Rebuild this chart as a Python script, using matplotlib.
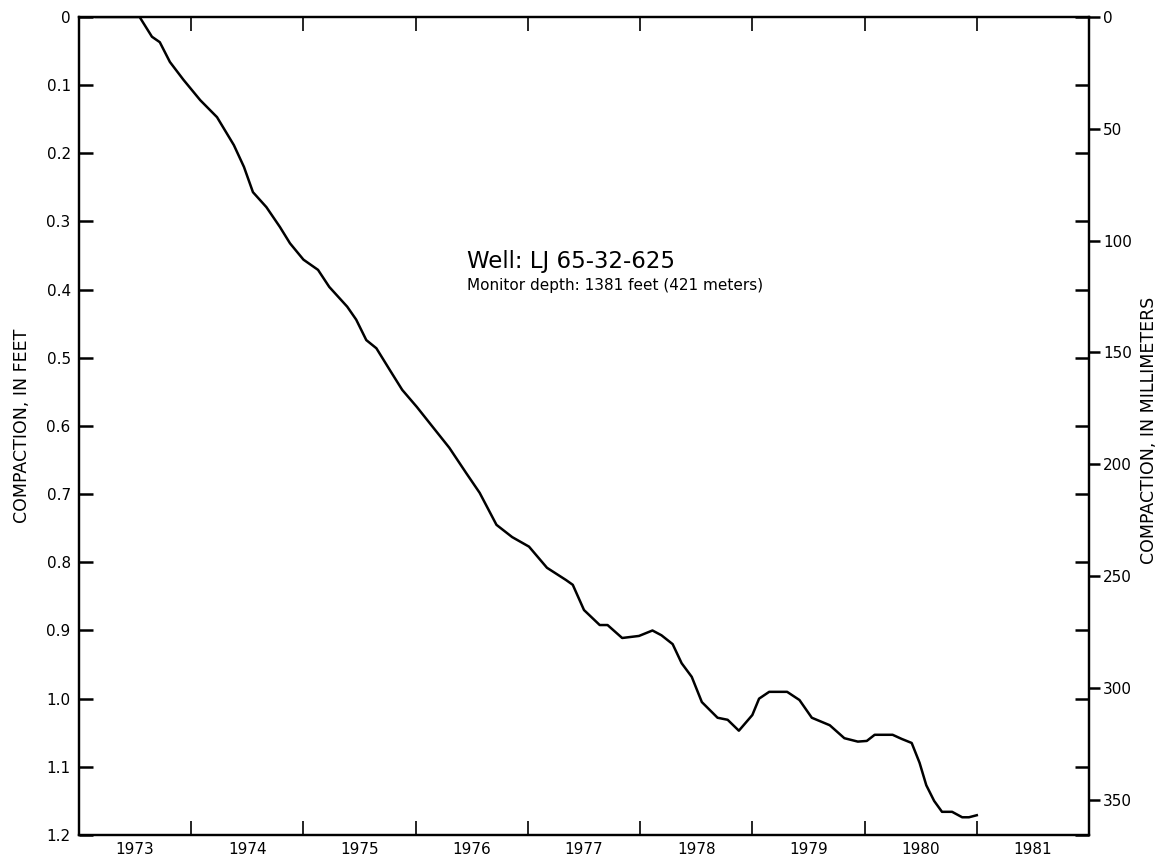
import matplotlib

matplotlib.use("Agg")
import matplotlib.pyplot as plt
from matplotlib.ticker import FixedLocator, NullFormatter

# compaction record
years = [
    1973.15, 1973.54, 1973.65, 1973.72, 1973.81, 1973.93, 1974.08, 1974.23,
    1974.38, 1974.47, 1974.55, 1974.67, 1974.79, 1974.88, 1975.00, 1975.13,
    1975.23, 1975.39, 1975.47, 1975.56, 1975.65, 1975.77, 1975.88, 1976.01,
    1976.15, 1976.30, 1976.45, 1976.57, 1976.72, 1976.86, 1977.01, 1977.17,
    1977.34, 1977.40, 1977.50, 1977.64, 1977.71, 1977.84, 1977.99, 1978.11,
    1978.19, 1978.29, 1978.37, 1978.46, 1978.55, 1978.69, 1978.78, 1978.88,
    1979.00, 1979.06, 1979.15, 1979.31, 1979.42, 1979.53, 1979.69, 1979.82,
    1979.94, 1980.02, 1980.09, 1980.25, 1980.33, 1980.42, 1980.49, 1980.55,
    1980.62, 1980.69, 1980.78, 1980.87, 1980.93, 1981.00,
]
compaction_ft = [
    0.000, 0.000, 0.029, 0.037, 0.066, 0.092, 0.122, 0.147,
    0.188, 0.220, 0.257, 0.279, 0.308, 0.332, 0.356, 0.371,
    0.396, 0.425, 0.444, 0.474, 0.486, 0.518, 0.547, 0.572,
    0.601, 0.632, 0.669, 0.698, 0.745, 0.763, 0.777, 0.808,
    0.826, 0.833, 0.870, 0.892, 0.892, 0.911, 0.908, 0.900,
    0.907, 0.920, 0.948, 0.968, 1.005, 1.028, 1.031, 1.047,
    1.024, 1.000, 0.990, 0.990, 1.002, 1.028, 1.039, 1.058,
    1.063, 1.062, 1.053, 1.053, 1.059, 1.065, 1.094, 1.127,
    1.150, 1.166, 1.166, 1.174, 1.174, 1.171,
]

year_labels = ["1973", "1974", "1975", "1976", "1977", "1978", "1979", "1980", "1981"]
ft_ticks = [0, 0.1, 0.2, 0.3, 0.4, 0.5, 0.6, 0.7, 0.8, 0.9, 1.0, 1.1, 1.2]
ft_labels = ["0", "0.1", "0.2", "0.3", "0.4", "0.5", "0.6", "0.7", "0.8", "0.9", "1.0", "1.1", "1.2"]
mm_ticks = [0, 50, 100, 150, 200, 250, 300, 350]
FT_TO_MM = 304.8

plt.rcParams["font.family"] = ["DejaVu Sans"]

fig = plt.figure(figsize=(11.6, 8.61), dpi=100)
ax = fig.add_axes([0.0681, 0.0302, 0.8707, 0.9501])

ax.plot(years, compaction_ft, color="black", linewidth=1.8, solid_joinstyle="round")

ax.set_xlim(1973, 1982)
ax.set_ylim(1.2, 0)

# year boundaries as inward ticks, labels centred in each year
ax.xaxis.set_major_locator(FixedLocator(list(range(1973, 1983))))
ax.xaxis.set_major_formatter(NullFormatter())
ax.xaxis.set_minor_locator(FixedLocator([int(y) + 0.5 for y in year_labels]))
ax.set_xticklabels(year_labels, minor=True)
ax.tick_params(axis="x", which="major", direction="in", length=10, width=1.2, top=True)
ax.tick_params(axis="x", which="minor", length=0, labelsize=11, pad=5)

ax.set_yticks(ft_ticks)
ax.set_yticklabels(ft_labels)
ax.tick_params(axis="y", direction="in", length=10, width=1.8, labelsize=11, pad=6)

for s in ax.spines.values():
    s.set_linewidth(1.6)

ax2 = ax.twinx()
ax2.set_ylim(1.2 * FT_TO_MM, 0)
ax2.set_yticks(mm_ticks)
ax2.tick_params(axis="y", direction="out", length=8, width=1.8, labelsize=11, pad=2)
for s in ax2.spines.values():
    s.set_linewidth(1.6)

# feet ticks mirrored inward on the right spine
ax.tick_params(axis="y", right=True, labelright=False)

ax.text(-0.0564, 0.5, "COMPACTION, IN FEET", transform=ax.transAxes,
        rotation=90, ha="center", va="center", fontsize=12.5)
ax.text(1.0594, 0.495, "COMPACTION, IN MILLIMETERS", transform=ax.transAxes,
        rotation=90, ha="center", va="center", fontsize=12.5)

ax.text(1976.46, 0.368, "Well: LJ 65-32-625", fontsize=16.5, ha="left", va="baseline")
ax.text(1976.46, 0.400, "Monitor depth: 1381 feet (421 meters)", fontsize=11,
        ha="left", va="baseline")

fig.savefig("out.png", dpi=100)
